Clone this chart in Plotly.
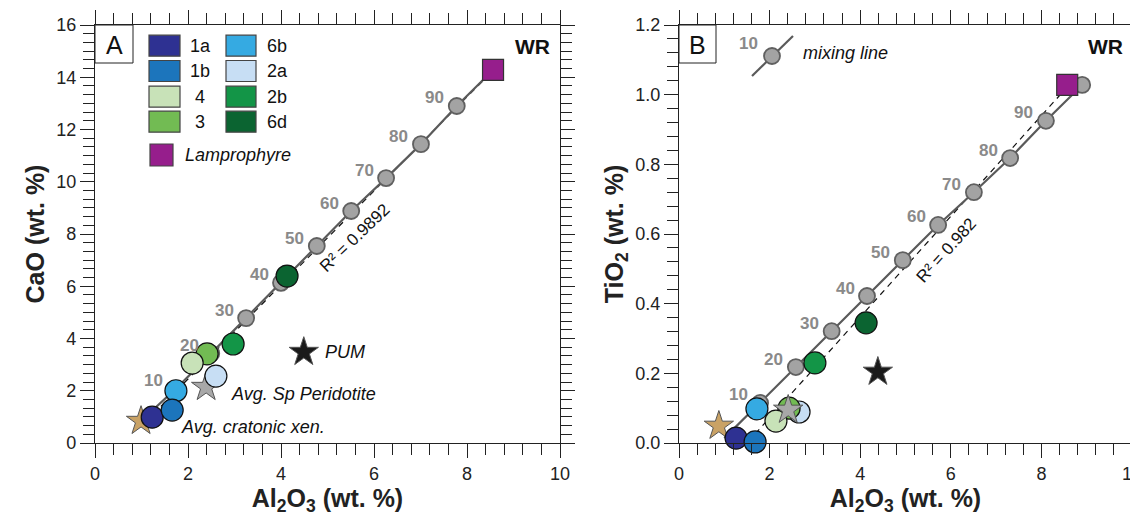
import plotly.graph_objects as go

W, H = 1138, 519
FONT = "Liberation Sans, Arial, sans-serif"

# ---------------- data ----------------
groups = ["1a", "1b", "6b", "2a", "4", "3", "2b", "6d"]
colors = {"1a": "#2E3192", "1b": "#1C75BC", "6b": "#35AAE2", "2a": "#C7DEF4",
          "4": "#C8E2B8", "3": "#72BB53", "2b": "#139547", "6d": "#0B6431"}

# Panel A: CaO vs Al2O3
a_al = {"1a": 1.23, "1b": 1.66, "6b": 1.74, "2a": 2.60, "4": 2.09, "3": 2.41, "2b": 2.97, "6d": 4.13}
a_ca = {"1a": 0.99, "1b": 1.26, "6b": 2.00, "2a": 2.56, "4": 3.06, "3": 3.41, "2b": 3.79, "6d": 6.39}
# Panel B: TiO2 vs Al2O3
b_al = {"1a": 1.26, "1b": 1.68, "6b": 1.72, "2a": 2.65, "4": 2.14, "3": 2.43, "2b": 3.00, "6d": 4.13}
b_ti = {"1a": 0.014, "1b": 0.003, "6b": 0.098, "2a": 0.089, "4": 0.063, "3": 0.100, "2b": 0.230, "6d": 0.345}

mix_pct = [10, 20, 30, 40, 50, 60, 70, 80, 90]
mixA_al = [1.74, 2.50, 3.25, 4.00, 4.77, 5.51, 6.26, 7.01, 7.78]
mixA_ca = [2.08, 3.43, 4.78, 6.13, 7.54, 8.88, 10.14, 11.44, 12.90]
mixB_al = [1.79, 2.58, 3.37, 4.15, 4.94, 5.72, 6.51, 7.31, 8.10]
mixB_ti = [0.115, 0.218, 0.321, 0.422, 0.525, 0.626, 0.720, 0.818, 0.925]
mixB_end_al, mixB_end_ti = 8.90, 1.028   # 100 % end member
mixB_start_al, mixB_start_ti = 1.00, 0.014

lamp_A = (8.56, 14.28)
lamp_B = (8.57, 1.028)

# reference compositions: (A Al2O3, A CaO, B Al2O3, B TiO2)
cratonic = (0.99, 0.84, 0.88, 0.049)
sp_perid = (2.39, 2.14, 2.41, 0.095)
pum = (4.49, 3.48, 4.39, 0.204)

# regression lines (end points)
regA_x, regA_y = [1.25, 8.40], [1.10, 13.97]
regB_x, regB_y = [1.52, 8.41], [0.003, 0.999]
r2A, r2B = "R² = 0.9892", "R² = 0.982"

# ---------------- helpers ----------------
OX, OY = 8, 8   # page offset of the figure inside the browser window

def px(x):
    return (x - OX) / W

def py(y):
    return 1 - (y - OY) / H

domA = [px(95), px(560)]
domB = [px(679), px(1132)]
domY = [py(443), py(25)]

fig = go.Figure()

def sc(**kw):
    return go.Scatter(showlegend=False, hoverinfo="skip", cliponaxis=False, **kw)

def add_panel(xa, ya, gx, gy, mx, my, line_x, line_y, lamp, extra_gray=None, reg=None, stars=None):
    fig.add_trace(sc(x=reg[0], y=reg[1], mode="lines", xaxis=xa, yaxis=ya,
                     line=dict(color="#111", width=1.2, dash="6px,5px")))
    fig.add_trace(sc(x=line_x, y=line_y, mode="lines", xaxis=xa, yaxis=ya,
                     line=dict(color="#5A5A5A", width=2.2)))
    gxx = list(mx) + ([extra_gray[0]] if extra_gray else [])
    gyy = list(my) + ([extra_gray[1]] if extra_gray else [])
    fig.add_trace(sc(x=gxx, y=gyy, mode="markers", xaxis=xa, yaxis=ya,
                     marker=dict(size=16, color="#A3A3A3", line=dict(color="#606060", width=1.8))))
    for (sx, sy, col) in stars:
        fig.add_trace(sc(x=[sx], y=[sy], mode="markers", xaxis=xa, yaxis=ya,
                         marker=dict(symbol="star", size=22, color=col, line=dict(color="#555", width=1))))
    for g in ["6d", "2b", "2a", "3", "4", "6b", "1a", "1b"]:
        fig.add_trace(sc(x=[gx[g]], y=[gy[g]], mode="markers", xaxis=xa, yaxis=ya,
                         marker=dict(size=22, color=colors[g], line=dict(color="#111", width=1.2))))
    fig.add_trace(sc(x=[lamp[0]], y=[lamp[1]], mode="markers", xaxis=xa, yaxis=ya,
                     marker=dict(symbol="square", size=21, color="#961E8C", line=dict(color="#333", width=1.2))))
    for p, x, y in zip(mix_pct, mx, my):
        fig.add_annotation(x=x, y=y, xref=xa, yref=ya, text=f"<b>{p}</b>", showarrow=False,
                           xshift=-22, yshift=8, font=dict(family=FONT, size=17, color="#8A8A8A"))

lineA_x = [cratonic[0]] + mixA_al + [lamp_A[0]]
lineA_y = [cratonic[1]] + mixA_ca + [lamp_A[1]]
add_panel("x", "y", a_al, a_ca, mixA_al, mixA_ca, lineA_x, lineA_y, lamp_A,
          reg=(regA_x, regA_y),
          stars=[(cratonic[0], cratonic[1], "#C9A265"), (sp_perid[0], sp_perid[1], "#A8A8A8"), (pum[0], pum[1], "#1A1A1A")])

lineB_x = [mixB_start_al] + mixB_al + [mixB_end_al]
lineB_y = [mixB_start_ti] + mixB_ti + [mixB_end_ti]
add_panel("x2", "y2", b_al, b_ti, mixB_al, mixB_ti, lineB_x, lineB_y, lamp_B,
          extra_gray=(mixB_end_al, mixB_end_ti), reg=(regB_x, regB_y),
          stars=[(cratonic[2], cratonic[3], "#C9A265"), (pum[2], pum[3], "#1A1A1A")])
fig.add_trace(sc(x=[sp_perid[2]], y=[sp_perid[3]], mode="markers", xaxis="x2", yaxis="y2",
                 marker=dict(symbol="star", size=22, color="#A8A8A8", line=dict(color="#555", width=1))))

def axis(dom, rng, dtick, minor, anchor, title=None, fmt=None):
    d = dict(domain=dom, range=rng, dtick=dtick, tick0=0, showgrid=False, zeroline=False,
             showline=True, linecolor="#222", linewidth=1.3, mirror="ticks", automargin=False,
             ticks="outside", ticklen=14, tickwidth=1.3, tickcolor="#222",
             minor=dict(dtick=minor, ticks="outside", ticklen=11, tickwidth=1.2, tickcolor="#222", showgrid=False),
             tickfont=dict(family=FONT, size=18, color="#222"), anchor=anchor, fixedrange=True)
    if fmt:
        d["tickformat"] = fmt
    if title:
        d["title"] = dict(text=title, font=dict(family=FONT, size=25, color="#222"), standoff=4)
    return d

fig.update_layout(
    width=W, height=H, margin=dict(l=0, r=0, t=0, b=0),
    paper_bgcolor="white", plot_bgcolor="white", showlegend=False,
    xaxis=axis(domA, [0, 10], 2, 0.4, "y", "<b>Al<sub>2</sub>O<sub>3</sub> (wt. %)</b>"),
    yaxis=axis(domY, [0, 16], 2, 2 / 6, "x", "<b>CaO (wt. %)</b>"),
    xaxis2=axis(domB, [0, 10], 2, 0.4, "y2", "<b>Al<sub>2</sub>O<sub>3</sub> (wt. %)</b>"),
    yaxis2=axis(domY, [0, 1.2], 0.2, 0.04, "x2", "<b>TiO<sub>2</sub> (wt. %)</b>", ".1f"),
)

shapes = []
ann = []

def rect(x0, y0, x1, y1, fill, lw=1, lc="#222"):
    shapes.append(dict(type="rect", xref="paper", yref="paper", x0=px(x0), x1=px(x1), y0=py(y1), y1=py(y0),
                       fillcolor=fill, line=dict(color=lc, width=lw), layer="above"))

def text(x, y, t, size=17, anchor="center", color="#111", italic=False, bold=False, angle=0):
    if bold:
        t = f"<b>{t}</b>"
    if italic:
        t = f"<i>{t}</i>"
    ann.append(dict(x=px(x), y=py(y), xref="paper", yref="paper", text=t, showarrow=False,
                    xanchor=anchor, yanchor="middle", textangle=angle,
                    font=dict(family=FONT, size=size, color=color)))

rect(95, 25, 133, 63, "white")
text(114, 45, "A", size=25)
rect(679, 25, 716, 63, "white")
text(697.5, 45, "B", size=25)
text(552, 46, "WR", size=21, anchor="right", bold=True)
text(1125, 46, "WR", size=21, anchor="right", bold=True)

leg_rows = [45.7, 71, 96.7, 121.7]
col1 = ["1a", "1b", "4", "3"]
col2 = ["6b", "2a", "2b", "6d"]
for yc, g1, g2 in zip(leg_rows, col1, col2):
    rect(149, yc - 10.5, 180, yc + 10.5, colors[g1], lw=1.2, lc="#444")
    text(200, yc, g1, size=18)
    rect(226, yc - 10.5, 256, yc + 10.5, colors[g2], lw=1.2, lc="#444")
    text(277, yc, g2, size=18)
rect(150, 144, 173, 166, "#961E8C", lw=1.2, lc="#444")
text(183, 155, "Lamprophyre", size=18, anchor="left", italic=True)

text(323, 352, "PUM", size=18, anchor="left", italic=True)
text(229, 394, "Avg. Sp Peridotite", size=18, anchor="left", italic=True)
text(179, 427, "Avg. cratonic xen.", size=18, anchor="left", italic=True)

text(354, 238, r2A, size=17, angle=-44)
text(946, 250, r2B, size=17, angle=-48)

shapes.append(dict(type="line", xref="paper", yref="paper", x0=px(752), y0=py(76), x1=px(793), y1=py(36),
                   line=dict(color="#5A5A5A", width=2.2), layer="above"))
shapes.append(dict(type="circle", xref="paper", yref="paper", x0=px(764), x1=px(780), y0=py(64), y1=py(48),
                   fillcolor="#A3A3A3", line=dict(color="#606060", width=1.8), layer="above"))
text(748, 44, "10", size=17, color="#8A8A8A", bold=True)
text(801, 53, "mixing line", size=18, anchor="left", italic=True)

fig.update_layout(shapes=shapes, annotations=list(fig.layout.annotations) + ann)
fig.write_html("out.html")
